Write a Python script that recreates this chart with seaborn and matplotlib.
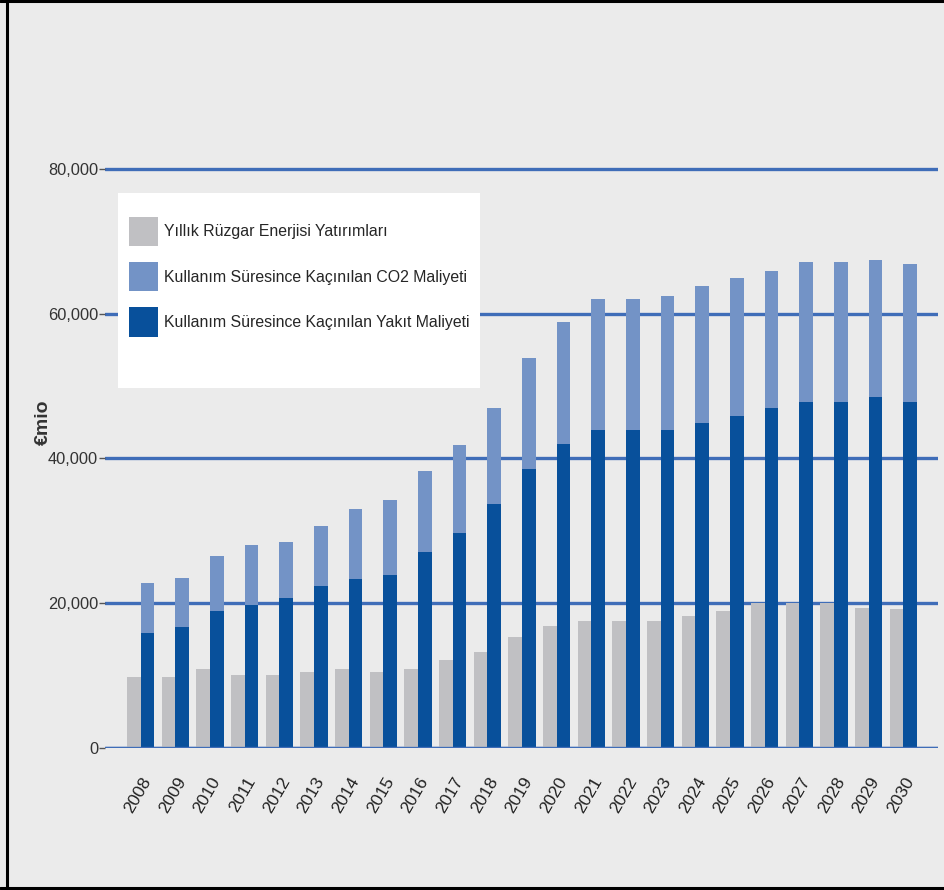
import matplotlib
matplotlib.use("Agg")
import matplotlib.pyplot as plt
import matplotlib.transforms as mtransforms
from matplotlib.patches import Patch, Rectangle
from matplotlib.lines import Line2D
import seaborn as sns
import pandas as pd

# Yıllar ve seriler (€mio)
years = [str(y) for y in range(2008, 2031)]
investment = [9800, 9800, 10900, 10100, 10100, 10500, 10900, 10500, 10900, 12200,
              13300, 15300, 16900, 17500, 17500, 17500, 18200, 18900, 20000, 20000,
              20000, 19400, 19200]
fuel_cost = [15900, 16700, 18900, 19800, 20700, 22400, 23400, 23900, 27100, 29700,
             33700, 38500, 42000, 43900, 43900, 43900, 44900, 45900, 47000, 47800,
             47800, 48500, 47800]
co2_cost = [6900, 6800, 7600, 8200, 7800, 8300, 9600, 10400, 11200, 12200,
            13300, 15400, 16900, 18200, 18200, 18500, 18900, 19000, 18900, 19300,
            19300, 18900, 19100]
y_ticks = [0, 20000, 40000, 60000, 80000]
legend_labels = ["Yıllık Rüzgar Enerjisi Yatırımları",
                 "Kullanım Süresince Kaçınılan CO2 Maliyeti",
                 "Kullanım Süresince Kaçınılan Yakıt Maliyeti"]

GREY = "#c0c0c3"
LIGHT = "#7393c6"
DARK = "#08509b"
BG = "#ebebeb"
GRID = "#3f6db8"

sns.set_theme(style="white")
plt.rcParams["font.family"] = ["Liberation Sans Narrow", "Liberation Sans", "DejaVu Sans"]

fig = plt.figure(figsize=(9.44, 8.9), dpi=100, facecolor=BG)
ax = fig.add_axes([105 / 944, (890 - 748) / 890, (938 - 105) / 944, 651.4 / 890])
ax.set_facecolor(BG)

levels = ["inv", "stack"]
totals = [f + c for f, c in zip(fuel_cost, co2_cost)]

# Yatırım çubukları ve yığılmış toplam (CO2 + yakıt)
df_top = pd.DataFrame({
    "year": years * 2,
    "kind": ["inv"] * len(years) + ["stack"] * len(years),
    "value": investment + totals,
})
sns.barplot(data=df_top, x="year", y="value", hue="kind", hue_order=levels,
            palette={"inv": GREY, "stack": LIGHT}, width=0.785, gap=0, dodge=True,
            saturation=1, errorbar=None, legend=False, ax=ax, zorder=2,
            linewidth=0)

# Yakıt maliyeti: yığının alt kısmı
df_fuel = pd.DataFrame({"year": years, "kind": ["stack"] * len(years), "value": fuel_cost})
sns.barplot(data=df_fuel, x="year", y="value", hue="kind", hue_order=levels,
            palette={"inv": GREY, "stack": DARK}, width=0.785, gap=0, dodge=True,
            saturation=1, errorbar=None, legend=False, ax=ax, zorder=3,
            linewidth=0)

ax.set_xlim(-1.03, 23.0)
ax.set_ylim(0, 90000)
ax.set_yticks(y_ticks)
ax.set_yticklabels([f"{v:,}" for v in y_ticks])
ax.yaxis.grid(True, color=GRID, linewidth=2.4)
ax.xaxis.grid(False)
ax.set_axisbelow(True)
ax.axhline(0, color=GRID, linewidth=2.4, zorder=4)
for s in ax.spines.values():
    s.set_visible(False)

ax.tick_params(axis="y", length=4, width=1, color="#555555", pad=1,
               labelsize=11.8, labelcolor="#333333", left=True)
ax.tick_params(axis="x", length=0, labelsize=12.5, labelcolor="#222222", pad=22)
ax.set_xticks(range(len(years)))
ax.set_xticklabels(years, rotation=60, ha="right", va="center", rotation_mode="anchor")
shift = mtransforms.ScaledTranslation(7 / 100, 0, fig.dpi_scale_trans)
for lbl in ax.get_xticklabels():
    lbl.set_transform(lbl.get_transform() + shift)
ax.set_xlabel("")
ax.set_ylabel("€mio", fontsize=14, fontweight="bold", color="#333333", labelpad=-3)

# Gösterge kutusu
fig.patches.append(Rectangle((118 / 944, (890 - 388) / 890), 362 / 944, 195 / 890,
                             transform=fig.transFigure, facecolor="white",
                             edgecolor="none", zorder=1))
handles = [Patch(facecolor=GREY, edgecolor="none"),
           Patch(facecolor=LIGHT, edgecolor="none"),
           Patch(facecolor=DARK, edgecolor="none")]
fs = 11.4
em = fs * 100 / 72
fig.legend(handles, legend_labels, loc="upper left",
           bbox_to_anchor=(129 / 944, 1 - 217 / 890), bbox_transform=fig.transFigure,
           frameon=False, fontsize=fs, borderpad=0, borderaxespad=0,
           handleheight=39 / em, handlelength=29 / em, handletextpad=6 / em,
           labelspacing=16 / em)

# Dış çerçeve
for xs, ys in [((7 / 944, 7 / 944), (0, 1)), ((0, 1), (1 - 1 / 890, 1 - 1 / 890)),
               ((0, 1), (2 / 890, 2 / 890))]:
    fig.lines.append(Line2D(xs, ys, transform=fig.transFigure, color="black", linewidth=2.2))

fig.savefig("out.png", dpi=100, facecolor=BG)
